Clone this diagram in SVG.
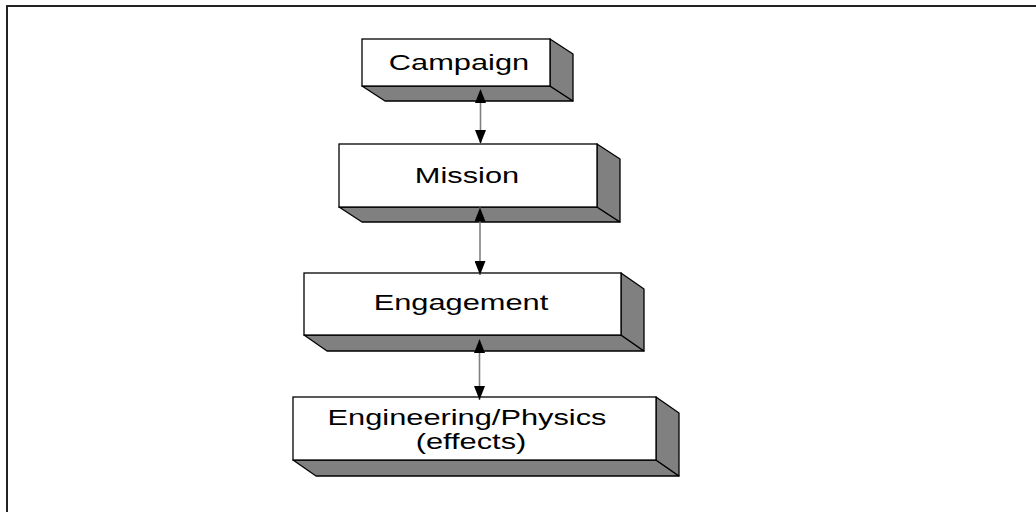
<svg xmlns="http://www.w3.org/2000/svg" width="1036" height="512" viewBox="0 0 1036 512">
<style>
.front{fill:#ffffff;stroke:#000;stroke-width:1.3}
.side{fill:#808080;stroke:#000;stroke-width:1.3;stroke-linejoin:round}
.lbl{font-family:"Liberation Sans",Arial,sans-serif;font-size:22px;fill:#000;text-anchor:middle}
.conn{stroke:#808080;stroke-width:1.6;fill:none}
.frame{fill:none;stroke:#222;stroke-width:2}
</style>
<defs>
<marker id="ah" viewBox="0 0 14 11" refX="14" refY="5.5" markerWidth="14" markerHeight="11" markerUnits="userSpaceOnUse" orient="auto-start-reverse">
<path d="M0,0 L14,5.5 L0,11 Z" fill="#000"/>
</marker>
</defs>
<rect class="frame" x="7" y="6" width="1040" height="520"/>
<g id="campaign">
<polygon class="side" points="362,86 550,86 573,101 385,101"/>
<polygon class="side" points="550,39 573,54 573,101 550,86"/>
<rect class="front" x="362" y="39" width="188" height="47"/>
<text class="lbl" transform="translate(459,69.5) scale(1.4,1)">Campaign</text>
</g>
<g id="mission">
<polygon class="side" points="339,207 597,207 620,222 362,222"/>
<polygon class="side" points="597,144 620,159 620,222 597,207"/>
<rect class="front" x="339" y="144" width="258" height="63"/>
<text class="lbl" transform="translate(467,183) scale(1.4,1)">Mission</text>
</g>
<g id="engagement">
<polygon class="side" points="304,335 621,335 644,351 327,351"/>
<polygon class="side" points="621,273 644,289 644,351 621,335"/>
<rect class="front" x="304" y="273" width="317" height="62"/>
<text class="lbl" transform="translate(461,310) scale(1.4,1)">Engagement</text>
</g>
<g id="engineering">
<polygon class="side" points="293,460 656,460 679,476 316,476"/>
<polygon class="side" points="656,397 679,413 679,476 656,460"/>
<rect class="front" x="293" y="397" width="363" height="63"/>
<text class="lbl" transform="translate(467,425) scale(1.4,1)">Engineering/Physics</text>
<text class="lbl" transform="translate(471,448.5) scale(1.4,1)">(effects)</text>
</g>
<g id="connectors">
<line class="conn" x1="480.5" y1="89" x2="480.5" y2="144" marker-start="url(#ah)" marker-end="url(#ah)"/>
<line class="conn" x1="480" y1="207.5" x2="480" y2="275" marker-start="url(#ah)" marker-end="url(#ah)"/>
<line class="conn" x1="479.5" y1="339" x2="479.5" y2="400" marker-start="url(#ah)" marker-end="url(#ah)"/>
</g>
</svg>
